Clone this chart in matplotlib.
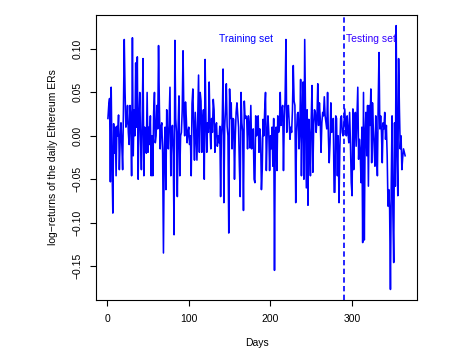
import numpy as np
import matplotlib.pyplot as plt

plt.rcParams['font.family'] = ['Liberation Sans', 'DejaVu Sans']

# daily log-returns, day 1..365
log_returns = [
    0.020, 0.035, 0.043, -0.053, 0.056, -0.030, -0.089, 0.014, -0.020, 0.010,
    -0.046, 0.011, 0.000, 0.024, -0.039, -0.005, 0.015, -0.010, -0.039, 0.030,
    0.111, 0.050, 0.010, 0.015, 0.035, 0.004, -0.010, 0.035, 0.020, -0.046,
    0.113, -0.023, 0.030, 0.000, 0.084, 0.010, 0.091, -0.050, 0.020, 0.050,
    -0.005, -0.039, 0.020, 0.089, -0.046, 0.010, 0.004, -0.020, 0.050, -0.019,
    0.010, -0.010, 0.023, -0.046, 0.000, -0.046, 0.027, 0.050, -0.008, 0.000,
    0.035, 0.008, 0.104, 0.035, -0.015, 0.010, 0.015, -0.020, -0.135, -0.015,
    0.010, -0.062, 0.030, 0.000, -0.015, 0.020, 0.056, -0.046, 0.000, 0.012,
    -0.020, -0.114, 0.110, 0.020, 0.004, -0.070, 0.010, 0.046, -0.046, 0.000,
    0.004, 0.030, 0.098, 0.023, 0.000, 0.039, 0.020, -0.008, 0.004, 0.010,
    -0.010, 0.000, -0.046, 0.037, 0.054, 0.010, -0.028, 0.027, 0.000, -0.028,
    0.020, 0.070, -0.019, 0.050, 0.040, -0.019, 0.015, 0.030, -0.050, 0.088,
    0.020, -0.019, 0.015, 0.004, 0.062, 0.010, -0.015, 0.020, 0.004, 0.042,
    0.030, -0.019, 0.010, 0.015, -0.012, 0.000, -0.008, 0.011, -0.070, 0.000,
    0.015, 0.077, -0.077, 0.010, 0.030, 0.060, 0.011, 0.000, -0.112, 0.054,
    0.020, 0.038, -0.015, 0.020, 0.019, -0.050, 0.000, 0.027, 0.038, 0.023,
    0.010, -0.035, -0.070, 0.050, 0.015, 0.005, -0.086, 0.040, 0.020, 0.023,
    0.019, -0.015, 0.023, 0.012, -0.014, 0.035, -0.015, -0.008, 0.008, -0.050,
    -0.054, 0.023, 0.000, 0.004, 0.023, -0.019, 0.008, -0.003, -0.062, -0.039,
    0.019, 0.000, 0.030, 0.050, -0.040, 0.000, 0.023, 0.004, -0.040, 0.000,
    -0.015, 0.010, -0.035, 0.020, -0.155, 0.004, 0.010, -0.040, 0.023, 0.004,
    0.010, 0.050, 0.012, 0.030, 0.035, -0.040, 0.020, 0.042, 0.111, 0.004,
    0.030, 0.035, 0.015, -0.004, 0.010, 0.004, 0.030, 0.081, 0.040, 0.035,
    -0.077, 0.004, 0.025, 0.027, -0.015, 0.008, 0.065, -0.046, 0.027, 0.062,
    -0.050, 0.111, 0.023, -0.060, 0.030, -0.080, 0.019, 0.000, -0.046, 0.020,
    0.058, -0.042, 0.012, 0.030, 0.027, 0.004, 0.020, 0.060, 0.012, 0.038,
    0.020, -0.019, 0.015, 0.027, 0.023, 0.045, 0.023, 0.015, 0.008, 0.050,
    0.000, -0.031, -0.008, 0.038, 0.004, 0.015, 0.020, -0.065, -0.065, 0.023,
    0.020, -0.046, 0.000, -0.077, -0.015, 0.020, 0.023, 0.004, 0.000, 0.012,
    # testing part
    0.031, 0.012, 0.000, 0.023, 0.004, -0.008, 0.027, -0.008, -0.054, -0.069,
    0.031, -0.039, 0.008, 0.027, -0.012, 0.020, 0.056, -0.027, -0.004, -0.019,
    -0.054, 0.010, -0.123, 0.050, -0.120, 0.004, 0.027, -0.023, 0.035, -0.058,
    0.035, 0.012, 0.054, -0.031, 0.038, 0.008, -0.012, -0.035, 0.023, -0.008,
    -0.046, 0.038, 0.096, 0.008, 0.023, 0.004, -0.031, 0.015, 0.008, 0.027,
    -0.004, 0.012, -0.023, -0.081, -0.062, -0.085, -0.177, -0.054, 0.023, -0.090,
    -0.146, 0.015, -0.058, 0.127, -0.015, -0.069, 0.089, 0.030, -0.015, 0.000,
    -0.039, -0.025, -0.015, -0.019, -0.023,
]
days = np.arange(1, len(log_returns) + 1)
split_day = 290
x_ticks = [0, 100, 200, 300]
y_ticks = [-0.15, -0.10, -0.05, 0.00, 0.05, 0.10]

fig = plt.figure(figsize=(4.53, 3.54), dpi=100)
ax = fig.add_axes([0.212, 0.1525, 0.7086, 0.805])

ax.plot(days, log_returns, color='#0000ff', lw=1.15)
ax.axvline(split_day, color='#0000ff', lw=1.2, linestyle=(0, (3.2, 2.0)))
ax.margins(x=0.04, y=0.04)

ax.text(170, 0.112, 'Training set', color='#0000ff', fontsize=7.5, ha='center', va='center')
ax.text(323, 0.112, 'Testing set', color='#3300ff', fontsize=7.5, ha='center', va='center')

ax.set_xticks(x_ticks)
ax.set_yticks(y_ticks)
ax.set_yticklabels([f'{v:.2f}'.replace('-', '\u2212') for v in y_ticks], rotation=90, va='center')
ax.tick_params(labelsize=7.5, length=4, width=0.8, pad=6)
for s in ax.spines.values():
    s.set_linewidth(0.8)

ax.set_xlabel('Days', fontsize=7.5, labelpad=10)
ax.set_ylabel('log\u2212returns of the daily Ethereum ERs', fontsize=7.5, labelpad=10)

fig.savefig('out.png', dpi=100)
